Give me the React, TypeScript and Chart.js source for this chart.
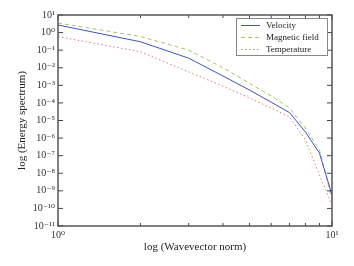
import React, { useEffect, useRef } from "react";
import { Chart, registerables } from "chart.js";

Chart.register(...registerables);

const wavevector = [1, 2, 3, 4, 5, 6, 7, 8, 9, 10];
const velocity = [2.7, 0.3, 0.035, 0.0034, 0.00054, 0.00011, 2.8e-5, 2.2e-6, 1.4e-7, 5.8e-10];
const magnetic = [3.5, 0.6, 0.1, 0.01, 0.0013, 0.00025, 5.1e-5, 3.7e-6, 2.1e-7, 3.2e-10];
const temperature = [0.59, 0.081, 0.0058, 0.0009, 0.00019, 5.1e-5, 1.6e-5, 8e-7, 8e-9, 1.6e-10];
const xTickValues = [1, 2, 3, 4, 5, 6, 7, 8, 9, 10];
const yTickExponents = [-11, -10, -9, -8, -7, -6, -5, -4, -3, -2, -1, 0, 1];

const SUP: Record<string, string> = {
  "0": "⁰", "1": "¹", "2": "²", "3": "³", "4": "⁴", "5": "⁵",
  "6": "⁶", "7": "⁷", "8": "⁸", "9": "⁹", "-": "⁻",
};
const sup = (n: number) => "10" + String(n).split("").map((c) => SUP[c] || c).join("");

const FONT = "'Liberation Serif', 'DejaVu Serif', serif";

const framePlugin = {
  id: "frame",
  afterDraw(chart: any) {
    const { ctx, chartArea: a, scales } = chart;
    ctx.save();
    ctx.strokeStyle = "#444";
    ctx.lineWidth = 1;
    scales.x.ticks.forEach((t: any) => {
      const px = scales.x.getPixelForValue(t.value);
      const isMajor = Math.abs(Math.log10(t.value) - Math.round(Math.log10(t.value))) < 1e-9;
      const len = isMajor ? 5 : 3;
      ctx.beginPath();
      ctx.moveTo(px, a.bottom);
      ctx.lineTo(px, a.bottom - len);
      ctx.moveTo(px, a.top);
      ctx.lineTo(px, a.top + len);
      ctx.stroke();
    });
    scales.y.ticks.forEach((t: any) => {
      const py = scales.y.getPixelForValue(t.value);
      ctx.beginPath();
      ctx.moveTo(a.left, py);
      ctx.lineTo(a.left + 5, py);
      ctx.moveTo(a.right, py);
      ctx.lineTo(a.right - 5, py);
      ctx.stroke();
    });
    ctx.strokeStyle = "#555";
    ctx.lineWidth = 1.5;
    ctx.strokeRect(a.left, a.top, a.right - a.left, a.bottom - a.top);

    // legend
    const bx = 236, by = 18, bw = 91, bh = 37;
    ctx.fillStyle = "#fff";
    ctx.fillRect(bx, by, bw, bh);
    ctx.strokeStyle = "#888";
    ctx.lineWidth = 1;
    ctx.strokeRect(bx + 0.5, by + 0.5, bw, bh);
    ctx.font = `9px ${FONT}`;
    ctx.textBaseline = "middle";
    chart.data.datasets.forEach((ds: any, i: number) => {
      const y = by + 7.5 + i * 12;
      ctx.strokeStyle = ds.borderColor;
      ctx.lineWidth = 1;
      ctx.setLineDash(ds.borderDash || []);
      ctx.beginPath();
      ctx.moveTo(bx + 5, y);
      ctx.lineTo(bx + 24, y);
      ctx.stroke();
      ctx.setLineDash([]);
      ctx.fillStyle = "#222";
      ctx.fillText(ds.label, bx + 30, y);
    });
    ctx.restore();
  },
};

export default function App() {
  const ref = useRef<HTMLCanvasElement>(null);
  useEffect(() => {
    if (!ref.current) return;
    const chart = new Chart(ref.current, {
      type: "line",
      data: {
        datasets: [
          {
            label: "Velocity",
            data: wavevector.map((x, i) => ({ x, y: velocity[i] })),
            borderColor: "#3f52c4",
            borderWidth: 1,
            pointRadius: 0,
            fill: false,
          },
          {
            label: "Magnetic field",
            data: wavevector.map((x, i) => ({ x, y: magnetic[i] })),
            borderColor: "#a8c46a",
            borderDash: [4, 3],
            borderWidth: 1,
            pointRadius: 0,
            fill: false,
          },
          {
            label: "Temperature",
            data: wavevector.map((x, i) => ({ x, y: temperature[i] })),
            borderColor: "#e47a6e",
            borderDash: [1.5, 2.5],
            borderWidth: 1,
            pointRadius: 0,
            fill: false,
          },
        ],
      },
      plugins: [framePlugin],
      options: {
        animation: false,
        responsive: false,
        maintainAspectRatio: false,
        layout: { padding: { left: 0, right: 22, top: 15, bottom: 0 } },
        plugins: { legend: { display: false }, tooltip: { enabled: false } },
        scales: {
          x: {
            type: "logarithmic",
            min: 1,
            max: 10,
            afterBuildTicks: (s: any) => {
              s.ticks = xTickValues.map((v) => ({ value: v }));
            },
            afterFit: (s: any) => {
              s.height = 40;
            },
            grid: { display: false, drawTicks: false },
            border: { display: false },
            ticks: {
              autoSkip: false,
              maxRotation: 0,
              padding: 3,
              color: "#333",
              font: { family: FONT, size: 10 },
              callback: (v: any) => {
                const l = Math.log10(Number(v));
                return Math.abs(l - Math.round(l)) < 1e-9 ? sup(Math.round(l)) : "";
              },
            },
            title: {
              display: true,
              text: "log (Wavevector norm)",
              color: "#222",
              font: { family: FONT, size: 11 },
              padding: { top: 0, bottom: 12 },
            },
          },
          y: {
            type: "logarithmic",
            min: 1e-11,
            max: 10,
            afterBuildTicks: (s: any) => {
              s.ticks = yTickExponents.map((e) => ({ value: Math.pow(10, e) }));
            },
            afterFit: (s: any) => {
              s.width = 58;
            },
            grid: { display: false, drawTicks: false },
            border: { display: false },
            ticks: {
              autoSkip: false,
              padding: 3,
              color: "#333",
              font: { family: FONT, size: 10 },
              callback: (v: any) => sup(Math.round(Math.log10(Number(v)))),
            },
            title: {
              display: true,
              text: "log (Energy spectrum)",
              color: "#222",
              font: { family: FONT, size: 11 },
              padding: { top: 16, bottom: 0 },
            },
          },
        },
      },
    });
    return () => chart.destroy();
  }, []);
  return (
    <div style={{ position: "fixed", left: 0, top: 0, width: 354, height: 266, background: "#fff" }}>
      <canvas ref={ref} width={354} height={266} />
    </div>
  );
}
